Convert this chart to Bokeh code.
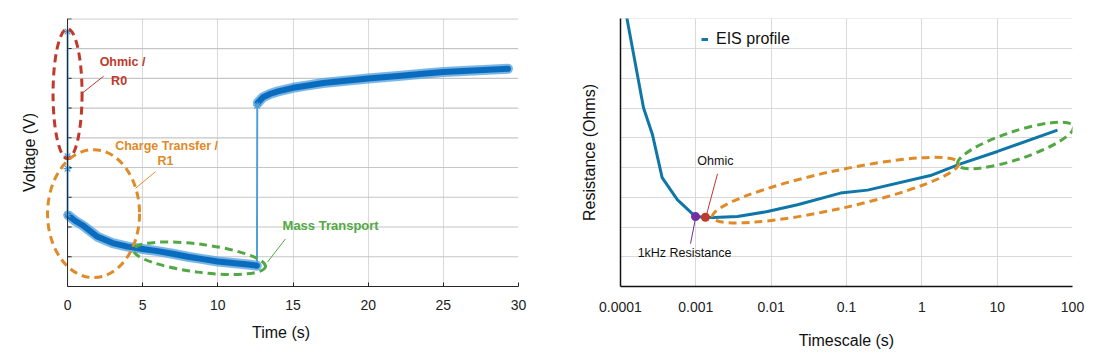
from bokeh.plotting import figure
from bokeh.layouts import row
from bokeh.models import (Label, Legend, LegendItem, FixedTicker, Range1d, Span,
                          CustomJSTickFormatter)
from bokeh.embed import file_html
from bokeh.resources import INLINE

FONT = "Liberation Sans"

# ---------------- left chart: current pulse, voltage response ----------------
t_step = [0.0, 0.0, 0.0, 0.0]
v_step = [8.57, 4.38, 3.96, 2.42]
t_discharge = [0.05, 0.5, 1, 2, 3, 4, 5, 6, 7, 8, 9, 10, 11, 12, 12.6]
v_discharge = [2.39, 2.21, 2.06, 1.67, 1.46, 1.34, 1.26, 1.19, 1.10, 1.00,
               0.92, 0.84, 0.79, 0.74, 0.70]
t_jump = [12.62, 12.62]
v_jump = [5.86, 6.08]
t_recovery = [12.66, 13, 13.5, 14, 15, 16, 17, 18, 20, 22, 24, 25, 26, 28, 29.3]
v_recovery = [6.18, 6.36, 6.48, 6.56, 6.68, 6.76, 6.84, 6.89, 6.99, 7.08,
              7.17, 7.21, 7.24, 7.29, 7.32]
x_ticks_left = [0, 5, 10, 15, 20, 25, 30]
y_ticks_left = [1, 2, 3, 4, 5, 6, 7, 8, 9]

# ---------------- right chart: EIS profile ----------------
tau = [1.2e-4, 2.02e-4, 2.66e-4, 3.57e-4, 5.71e-4, 9.9e-4, 1.34e-3, 1.72e-3,
       3.57e-3, 8.93e-3, 0.0224, 0.0832, 0.19, 1.30, 3.26, 10.1, 63.2]
res = [9.10, 6.01, 5.10, 3.66, 2.91, 2.35, 2.33, 2.32,
       2.35, 2.52, 2.75, 3.14, 3.24, 3.73, 4.12, 4.54, 5.26]
tau_1khz = [0.00099]
res_1khz = [2.35]
tau_ohmic = [0.00134]
res_ohmic = [2.33]
x_ticks_right = [0.0001, 0.001, 0.01, 0.1, 1, 10, 100]
y_ticks_right = [0, 1, 2, 3, 4, 5, 6, 7, 8, 9]

RED = "#c0392b"
ORANGE = "#e08a28"
GREEN = "#52a845"
PURPLE = "#7030a0"
GRID = "#d9d9d9"
AXIS = "#262626"

# ======================= LEFT =======================
X0, X1 = -1.6, 30
p1 = figure(width=568, height=351, x_range=Range1d(X0, X1), y_range=Range1d(0, 9.01),
            output_backend="svg", toolbar_location=None,
            min_border_left=43, min_border_right=50, min_border_top=16, min_border_bottom=60)
p1.outline_line_color = None
p1.ygrid.visible = False
p1.xgrid.ticker = FixedTicker(ticks=x_ticks_left)
p1.xgrid.grid_line_color = GRID

# horizontal grid lines limited to the axis extent, plus inward tick marks
n = len(y_ticks_left)
p1.segment(x0=[0] * n, x1=[30] * n, y0=y_ticks_left, y1=y_ticks_left,
           line_color="#c6c6c6", line_width=1.2)
p1.segment(x0=[0] * n, x1=[0.27] * n, y0=y_ticks_left, y1=y_ticks_left,
           line_color=AXIS, line_width=1)
p1.add_layout(Span(location=0, dimension="height", line_color=AXIS, line_width=1))

xa = p1.xaxis[0]
xa.ticker = FixedTicker(ticks=x_ticks_left)
xa.bounds = (0, 30)
xa.major_tick_in = 4
xa.major_tick_out = 0
xa.minor_tick_line_color = None
xa.axis_line_color = AXIS
xa.major_tick_line_color = AXIS
xa.major_label_text_font = FONT
xa.major_label_text_font_size = "14px"
xa.major_label_text_color = "#222222"
xa.major_label_standoff = 13
xa.axis_label = "Time (s)"
xa.axis_label_text_font = FONT
xa.axis_label_text_font_size = "16px"
xa.axis_label_text_font_style = "normal"
xa.axis_label_text_color = "#111111"
xa.axis_label_standoff = 11

ya = p1.yaxis[0]
ya.ticker = FixedTicker(ticks=[])
ya.axis_line_color = None
ya.major_tick_line_color = None
ya.minor_tick_line_color = None
ya.major_label_standoff = 0
ya.axis_label = "Voltage (V)"
ya.axis_label_text_font = FONT
ya.axis_label_text_font_size = "16px"
ya.axis_label_text_font_style = "normal"
ya.axis_label_text_color = "#111111"
ya.axis_label_standoff = 6

t_all = t_step + t_discharge + t_jump + t_recovery
v_all = v_step + v_discharge + v_jump + v_recovery
p1.line(t_all, v_all, line_color="#4f9fdc", line_width=2)
for tt, vv in ((t_discharge, v_discharge), (t_recovery, v_recovery)):
    p1.line(tt, vv, line_color="#5aa5de", line_width=10, line_alpha=0.8,
            line_join="round", line_cap="round")
    p1.line(tt, vv, line_color="#0a6cbf", line_width=6, line_join="round", line_cap="round")
p1.scatter(t_step + t_jump[1:], v_step + v_jump[1:], marker="asterisk", size=8,
           line_color="#4f9fdc", line_width=1.2)

# annotations (ellipses + pointer lines + labels)
p1.ellipse(x=[0.0], y=[6.48], width=[29], height=[130], angle=0,
           width_units="screen", height_units="screen", fill_color=None,
           line_color=RED, line_width=3, line_dash="8 5")
p1.ellipse(x=[1.73], y=[2.45], width=[92], height=[128], angle=0,
           width_units="screen", height_units="screen", fill_color=None,
           line_color=ORANGE, line_width=3, line_dash="8 5")
p1.ellipse(x=[8.78], y=[0.95], width=[133], height=[28], angle=-0.127,
           width_units="screen", height_units="screen", fill_color=None,
           line_color=GREEN, line_width=3, line_dash="8 5")
p1.segment(x0=[1.0], y0=[6.51], x1=[2.40], y1=[7.07], line_color=RED, line_width=1)
p1.segment(x0=[4.52], y0=[3.30], x1=[5.85], y1=[3.86], line_color=ORANGE, line_width=1)
p1.segment(x0=[13.3], y0=[0.82], x1=[14.5], y1=[1.60], line_color=GREEN, line_width=1)


def lab(p, x, y, text, color, size="12.5px", style="bold"):
    p.add_layout(Label(x=x, y=y, text=text, text_color=color, text_font=FONT,
                       text_font_size=size, text_font_style=style,
                       text_align="center", text_baseline="middle"))


lab(p1, 3.66, 7.54, "Ohmic /", RED)
lab(p1, 3.43, 6.90, "R0", RED)
lab(p1, 6.59, 4.72, "Charge Transfer /", ORANGE)
lab(p1, 6.52, 4.22, "R1", ORANGE)
lab(p1, 17.5, 2.06, "Mass Transport", GREEN, size="13px")

# ======================= RIGHT =======================
p2 = figure(width=518, height=351, x_axis_type="log", x_range=Range1d(1e-4, 100),
            y_range=Range1d(0, 9.01), output_backend="svg", toolbar_location=None,
            min_border_left=52, min_border_right=14, min_border_top=18, min_border_bottom=57)
p2.outline_line_color = None
p2.xgrid.ticker = FixedTicker(ticks=x_ticks_right)
p2.ygrid.ticker = FixedTicker(ticks=y_ticks_right)
p2.xgrid.grid_line_color = GRID
p2.ygrid.grid_line_color = GRID

xb = p2.xaxis[0]
xb.ticker = FixedTicker(ticks=x_ticks_right)
xb.formatter = CustomJSTickFormatter(code="return parseFloat(tick.toPrecision(3)).toString();")
xb.major_tick_line_color = None
xb.minor_tick_line_color = None
xb.axis_line_color = "#111111"
xb.axis_line_width = 1.5
xb.major_label_text_font = FONT
xb.major_label_text_font_size = "14px"
xb.major_label_text_color = "#222222"
xb.major_label_standoff = 9
xb.axis_label = "Timescale (s)"
xb.axis_label_text_font = FONT
xb.axis_label_text_font_size = "16px"
xb.axis_label_text_font_style = "normal"
xb.axis_label_text_color = "#111111"
xb.axis_label_standoff = 17

yb = p2.yaxis[0]
yb.ticker = FixedTicker(ticks=[])
yb.major_tick_line_color = None
yb.minor_tick_line_color = None
yb.major_label_standoff = 0
yb.axis_line_color = "#111111"
yb.axis_line_width = 1.5
yb.axis_label = "Resistance (Ohms)"
yb.axis_label_text_font = FONT
yb.axis_label_text_font_size = "16px"
yb.axis_label_text_font_style = "normal"
yb.axis_label_text_color = "#111111"
yb.axis_label_standoff = 23

BLUE = "#0f76a8"
curve = p2.line(tau, res, line_color=BLUE, line_width=3)

p2.ellipse(x=[0.0715], y=[3.24], width=[252], height=[38], angle=0.216,
           width_units="screen", height_units="screen", fill_color=None,
           line_color=ORANGE, line_width=3, line_dash="8 5")
p2.ellipse(x=[17.5], y=[4.74], width=[122], height=[28], angle=0.32,
           width_units="screen", height_units="screen", fill_color=None,
           line_color=GREEN, line_width=3, line_dash="8 5")

p2.segment(x0=[0.00194], y0=[3.79], x1=[0.00139], y1=[2.42], line_color=RED, line_width=1)
p2.segment(x0=[0.00085], y0=[1.44], x1=[0.00099], y1=[2.29], line_color=PURPLE, line_width=1)
p2.scatter(tau_1khz, res_1khz, size=9, fill_color=PURPLE, line_color=None)
p2.scatter(tau_ohmic, res_ohmic, size=9, fill_color=RED, line_color=None)

lab(p2, 0.00182, 4.22, "Ohmic", "#111111", style="normal")
lab(p2, 0.000708, 1.11, "1kHz Resistance", "#111111", style="normal")

legend = Legend(items=[LegendItem(label="EIS profile", renderers=[curve])],
                location=(81, 237), orientation="vertical")
legend.border_line_color = None
legend.background_fill_alpha = 0
legend.padding = 0
legend.margin = 0
legend.glyph_width = 7
legend.glyph_height = 20
legend.label_standoff = 8
legend.label_text_font = FONT
legend.label_text_font_size = "16px"
legend.label_text_color = "#111111"
p2.add_layout(legend)

layout = row(p1, p2)
open("out.html", "w").write(file_html(layout, INLINE))
